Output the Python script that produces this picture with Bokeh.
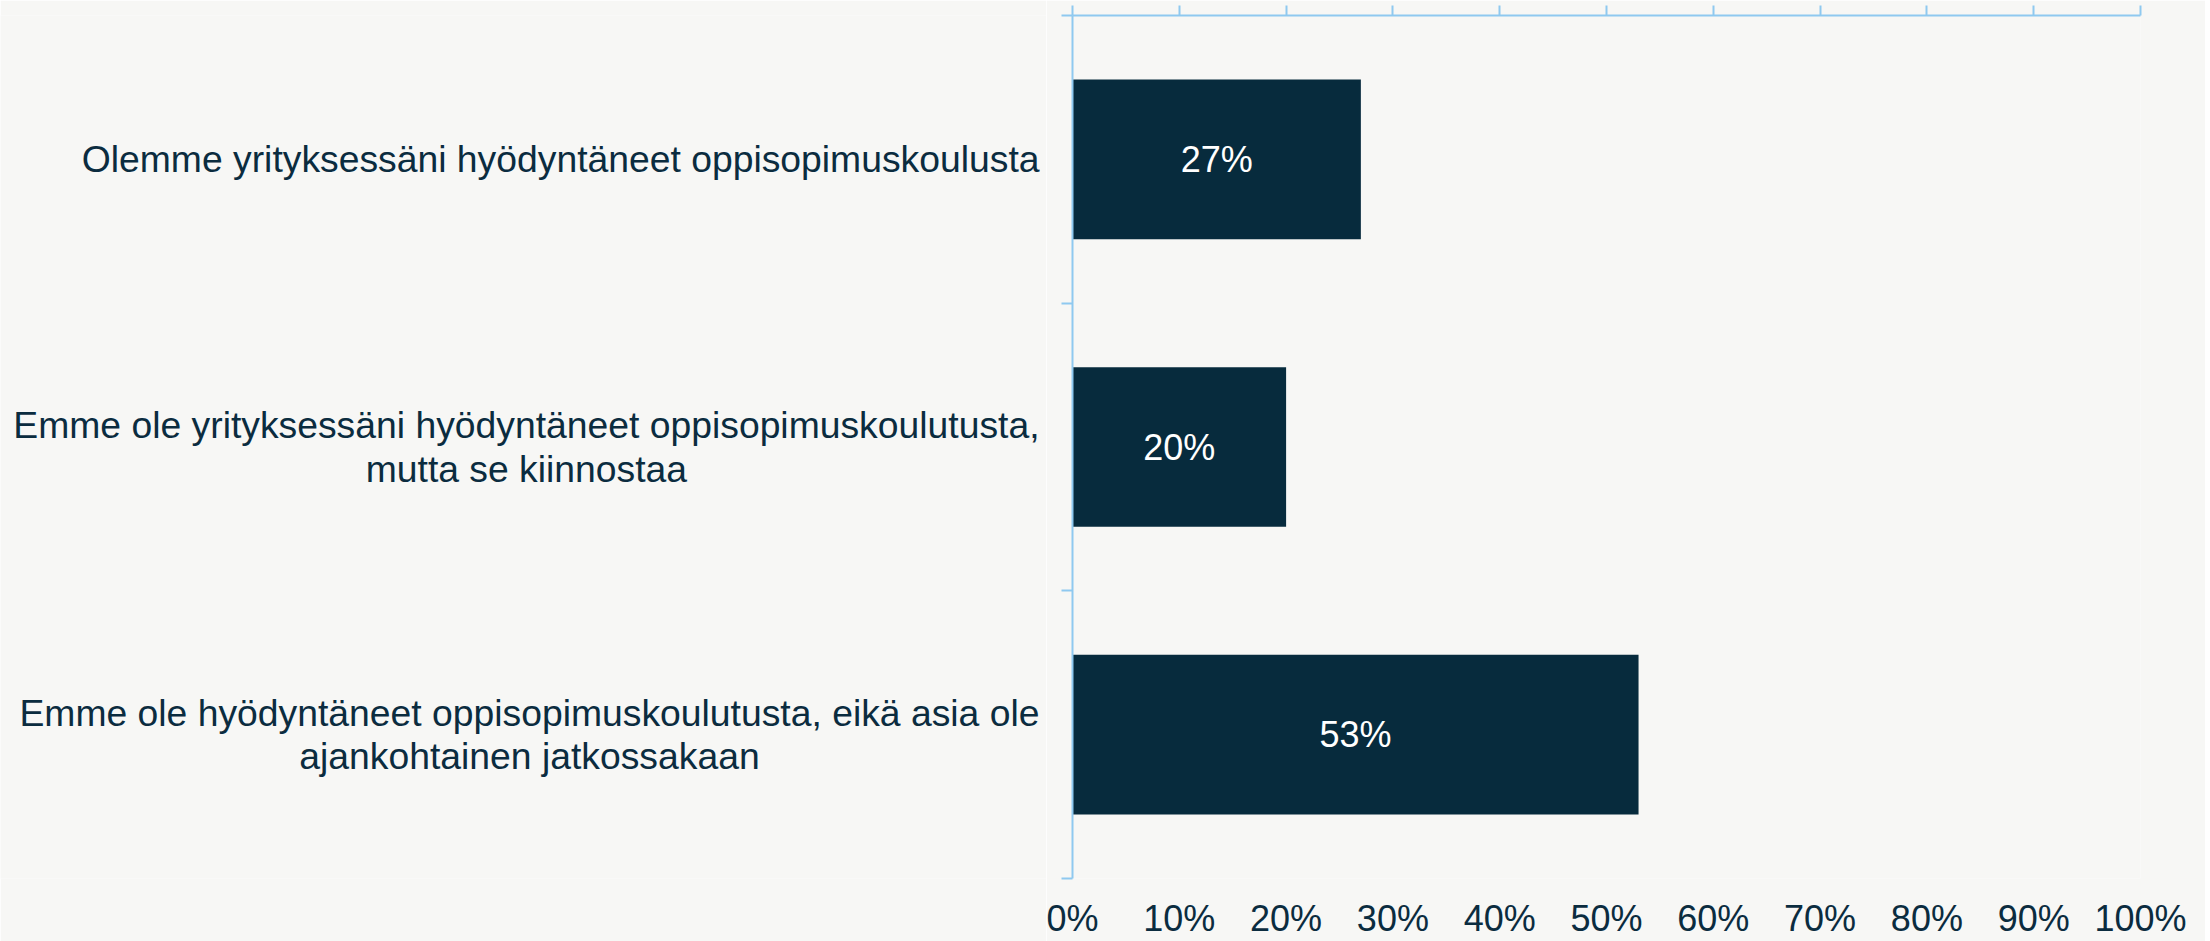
from bokeh.plotting import figure
from bokeh.models import Range1d, LinearAxis, FixedTicker, ColumnDataSource
from bokeh.layouts import row
from bokeh.core.properties import value
from bokeh.embed import file_html
from bokeh.resources import INLINE

# ---- data ----
categories = [
    "Olemme yrityksessäni hyödyntäneet oppisopimuskoulusta",
    "Emme ole yrityksessäni hyödyntäneet oppisopimuskoulutusta,\nmutta se kiinnostaa",
    "Emme ole hyödyntäneet oppisopimuskoulutusta, eikä asia ole\najankohtainen jatkossakaan",
]
values = [0.27, 0.20, 0.53]
value_labels = ["27%", "20%", "53%"]
x_ticks = [0.0, 0.1, 0.2, 0.3, 0.4, 0.5, 0.6, 0.7, 0.8, 0.9, 1.0]
x_tick_labels = ["0%", "10%", "20%", "30%", "40%", "50%", "60%", "70%", "80%", "90%", "100%"]

# ---- styles ----
BG = "#f7f7f5"
BAR = "#072b3d"
TXT = "#0b2c3f"
AX = "#8fc9f0"
FONT = "Liberation Sans"
FS = "36px"
FS_CAT = "37.3px"
H = 941
TOP = 15
BOTTOM = 63

n = len(categories)
y_centers = [i + 0.5 for i in range(n)]
y_edges = list(range(n + 1))
y_range = Range1d(n, 0)

# ---- left figure: category labels ----
pl = figure(width=1046, height=H, output_backend="svg", toolbar_location=None,
            x_range=Range1d(0, 1), y_range=y_range,
            x_axis_location=None, y_axis_location=None,
            min_border_left=0, min_border_right=0, min_border_top=TOP, min_border_bottom=BOTTOM,
            background_fill_color=BG, border_fill_color=BG, outline_line_color=None)
pl.grid.visible = False
lsrc = ColumnDataSource(dict(x=[1.0] * n, y=y_centers, t=categories))
pl.text(x="x", y="y", text="t", source=lsrc, x_offset=-7, anchor="center_right",
        text_align="center", text_baseline="middle", text_line_height=1.04,
        text_color=TXT, text_font=value(FONT), text_font_size=FS_CAT)

# ---- right figure: bars ----
p = figure(width=1159, height=H, output_backend="svg", toolbar_location=None,
           x_range=Range1d(0, 1), y_range=y_range,
           x_axis_location=None, y_axis_location=None,
           min_border_left=26, min_border_right=65, min_border_top=TOP, min_border_bottom=BOTTOM,
           background_fill_color=BG, border_fill_color=BG, outline_line_color=None)
p.grid.visible = False

src = ColumnDataSource(dict(y=y_centers, right=values, xc=[v / 2 for v in values], lab=value_labels))
p.hbar(y="y", left=0, right="right", height=0.555, source=src, fill_color=BAR, line_color=None)
p.text(x="xc", y="y", text="lab", source=src, text_align="center", text_baseline="middle",
       text_color="white", text_font=value(FONT), text_font_size=FS)

# top axis: line + ticks only
top = LinearAxis(ticker=FixedTicker(ticks=x_ticks),
                 axis_line_color=AX, axis_line_width=2,
                 major_tick_line_color=AX, major_tick_line_width=2, major_tick_out=10, major_tick_in=0,
                 minor_tick_line_color=None, major_label_text_color=None,
                 major_label_text_font_size="1px", major_label_standoff=0)
p.add_layout(top, "above")

# bottom axis: labels only
bot = LinearAxis(ticker=FixedTicker(ticks=x_ticks), axis_line_color=None,
                 major_tick_line_color=None, minor_tick_line_color=None,
                 major_tick_out=0, major_tick_in=0, major_label_standoff=19,
                 major_label_overrides={t: l for t, l in zip(x_ticks, x_tick_labels)},
                 major_label_text_font=FONT, major_label_text_font_size=FS,
                 major_label_text_color=TXT)
p.add_layout(bot, "below")

# left axis: line + ticks at category edges
left = LinearAxis(ticker=FixedTicker(ticks=y_edges),
                  axis_line_color=AX, axis_line_width=2,
                  major_tick_line_color=AX, major_tick_line_width=2, major_tick_out=11, major_tick_in=0,
                  minor_tick_line_color=None, major_label_text_color=None,
                  major_label_text_font_size="1px", major_label_standoff=0)
p.add_layout(left, "left")

layout = row(pl, p, spacing=0)
html = file_html(layout, INLINE)
html = html.replace("<body>", '<body style="background:%s">' % BG, 1)
open("out.html", "w").write(html)
